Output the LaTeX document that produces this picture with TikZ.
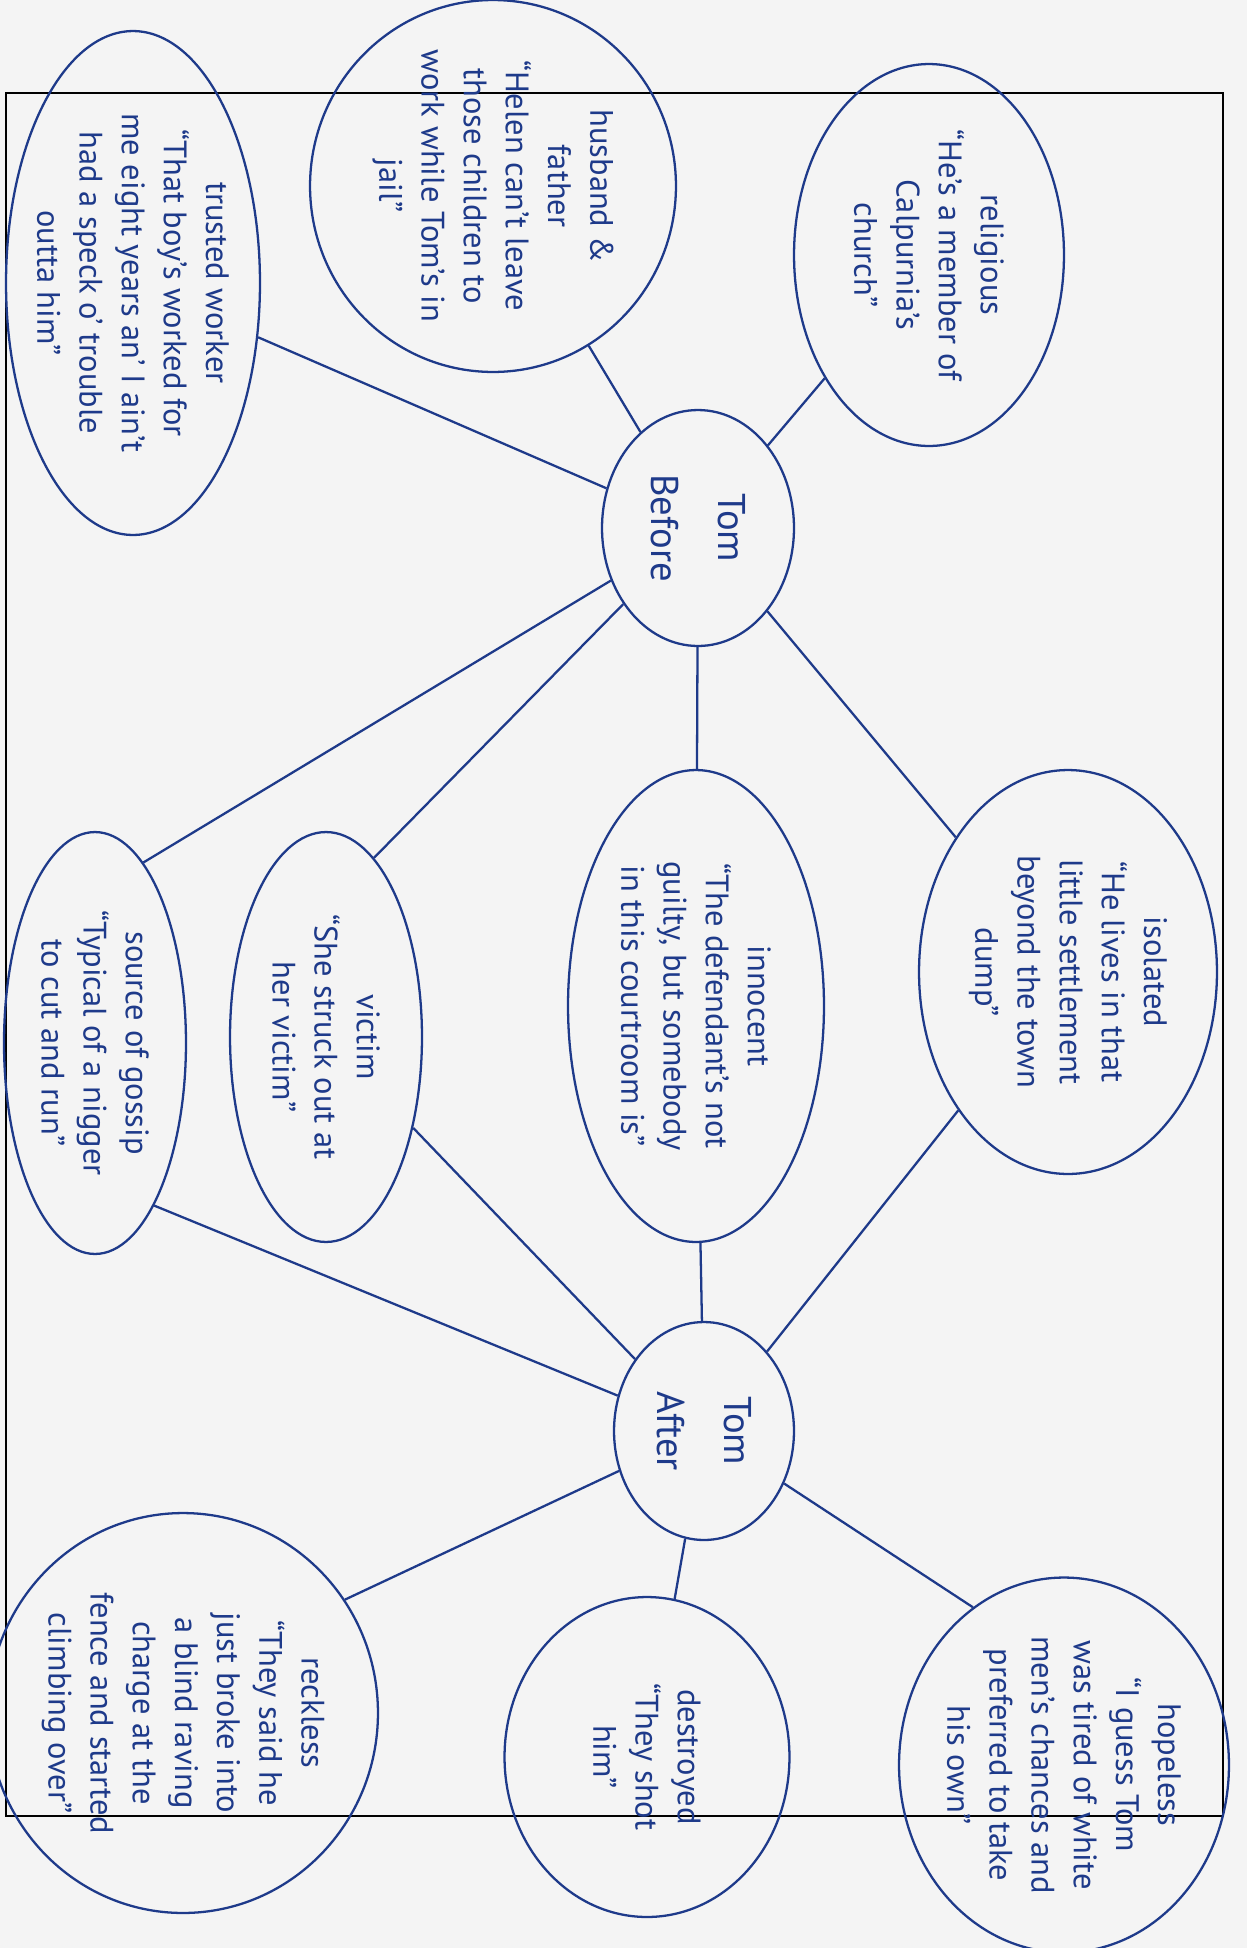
\documentclass[tikz,border=0pt]{standalone}
\usepackage{fontspec}
\setmainfont{PT Sans}
\usetikzlibrary{shapes.geometric}

\definecolor{ink}{RGB}{30,58,138}
\definecolor{paper}{RGB}{244,244,244}

\begin{document}
\begin{tikzpicture}[
        x=0.02cm, y=-0.02cm,
        font=\fontsize{18.5}{24}\selectfont,
        bubble/.style={draw=ink, ellipse, rotate=-90, align=center, text=ink, line width=1.3pt, inner sep=-10pt},
        hub/.style={bubble, font=\fontsize{22}{38}\selectfont},
        link/.style={draw=ink, line width=1.3pt}
    ]

    % Paper and frame
    \fill[paper] (0,0) rectangle (1247,1948);
    \useasboundingbox (0,0) rectangle (1247,1948);
    \draw[line width=1.6pt] (6,93) rectangle (1223,1816);

    % Centre: Tom before and after
    \node[hub, minimum width=4.72cm, minimum height=3.84cm] (before) at (698,528) {Tom\\Before};
    \node[hub, minimum width=4.36cm, minimum height=3.6cm] (after) at (704,1431) {Tom\\After};

    % Top: before the trial
    \node[bubble, minimum width=7.64cm, minimum height=5.4cm] (religious) at (929,255)
        {religious\\``He's a member of\\Calpurnia's\\church''};
    \node[bubble, minimum width=7.44cm, minimum height=7.32cm] (husband) at (493,186)
        {husband \&\\father\\``Helen can't leave\\those children to\\work while Tom's in\\jail''};
    \node[bubble, minimum width=10.08cm, minimum height=5.08cm] (worker) at (133,283)
        {trusted worker\\``That boy's worked for\\me eight years an' I ain't\\had a speck o' trouble\\outta him''};

    % Middle: shared traits
    \node[bubble, minimum width=8.08cm, minimum height=5.96cm] (isolated) at (1068,972)
        {isolated\\``He lives in that\\little settlement\\beyond the town\\dump''};
    \node[bubble, minimum width=9.44cm, minimum height=5.12cm] (innocent) at (696,1006)
        {innocent\\``The defendant's not\\guilty, but somebody\\in this courtroom is''};
    \node[bubble, minimum width=8.2cm, minimum height=3.84cm] (victim) at (326,1037)
        {victim\\``She struck out at\\her victim''};
    \node[bubble, minimum width=8.44cm, minimum height=3.64cm] (gossip) at (95,1043)
        {source of gossip\\``Typical of a nigger\\to cut and run''};

    % Bottom: after the trial
    \node[bubble, minimum width=7.5cm, minimum height=6.6cm] (hopeless) at (1064,1765)
        {hopeless\\``I guess Tom\\was tired of white\\men's chances and\\preferred to take\\his own''};
    \node[bubble, minimum width=6.4cm, minimum height=5.7cm] (destroyed) at (647,1757)
        {destroyed\\``They shot\\him''};
    \node[bubble, minimum width=8cm, minimum height=7.8cm] (reckless) at (183,1713)
        {reckless\\``They said he\\just broke into\\a blind raving\\charge at the\\fence and started\\climbing over''};

    % Links from Tom before
    \foreach \n in {religious, husband, worker, isolated, innocent}
        \draw[link] (before) -- (\n);
    \draw[link] (before) -- (victim.165);
    \draw[link] (before) -- (gossip.165);

    % Links from Tom after
    \foreach \n in {isolated, innocent, victim, destroyed}
        \draw[link] (after) -- (\n);
    \draw[link] (after) -- (gossip.20);
    \draw[link] (after) -- (hopeless.210);
    \draw[link] (after) -- (reckless.125);

\end{tikzpicture}
\end{document}
